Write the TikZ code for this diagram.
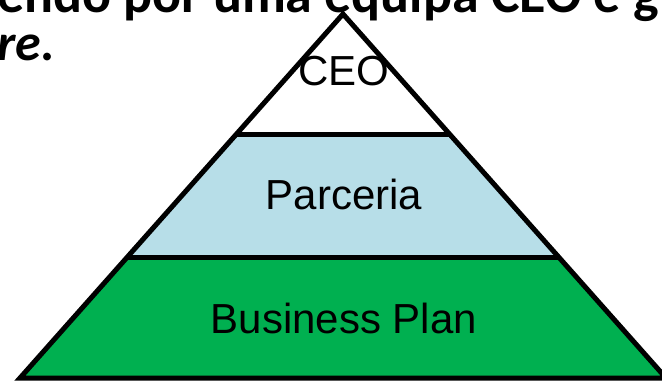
\documentclass[tikz,border=0pt]{standalone}
\usepackage{fontspec}
\setmainfont{Liberation Sans}
\newfontfamily\calib{Carlito}
\usetikzlibrary{calc}
\definecolor{bpgreen}{HTML}{00B050}
\definecolor{parblue}{HTML}{B7DEE8}
\tikzset{
  tier/.style={draw=black, line width=5pt, line join=miter},
  tierlabel/.style={anchor=base, inner sep=0pt, font=\fontsize{42}{42}\selectfont},
  headtext/.style={anchor=base west, inner sep=0pt, font=\calib\bfseries\fontsize{54}{54}\selectfont}
}
\begin{document}
\begin{tikzpicture}[x=1pt,y=-1pt]
\useasboundingbox (0,0) rectangle (662,381);
\clip (0,0) rectangle (662,381);
\coordinate (A) at (343,14);
\coordinate (L) at (20,378);
\coordinate (R) at (666,378);
\coordinate (L1) at ($(A)!0.3324!(L)$);
\coordinate (R1) at ($(A)!0.3324!(R)$);
\coordinate (L2) at ($(A)!0.6703!(L)$);
\coordinate (R2) at ($(A)!0.6703!(R)$);
% header text
\node[headtext] (h1) at (-3,12) {endo por uma equipa CEO e g};
\node[headtext, font=\calib\bfseries\itshape\fontsize{52}{52}\selectfont] (h2) at (-3,60) {re.};
% tiers
\fill[bpgreen] (L2) -- (R2) -- (R) -- (L) -- cycle;
\fill[parblue] (L1) -- (R1) -- (R2) -- (L2) -- cycle;
\fill[white] (A) -- (R1) -- (L1) -- cycle;
\draw[tier] (A) -- (R) -- (L) -- cycle;
\draw[tier] (L1) -- (R1);
\draw[tier] (L2) -- (R2);
\node[tierlabel] (ceo) at (344,85) {CEO};
\node[tierlabel] (par) at (344,209) {Parceria};
\node[tierlabel] (bp) at (344,333) {Business Plan};
\end{tikzpicture}
\end{document}
